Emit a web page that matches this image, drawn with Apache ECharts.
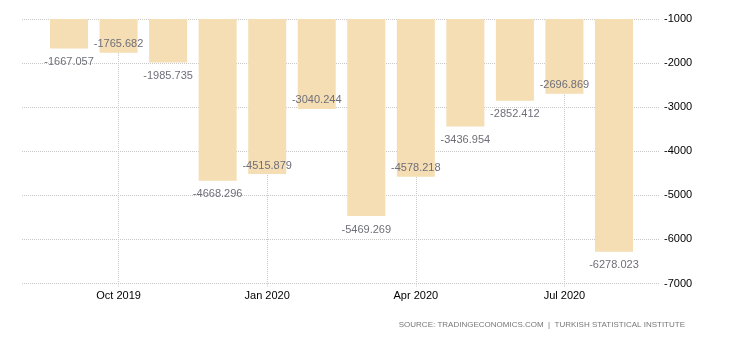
<!DOCTYPE html>
<html>
<head>
<meta charset="utf-8">
<script src="https://cdn.jsdelivr.net/npm/echarts@6/dist/echarts.min.js"></script>
<style>
html,body{margin:0;padding:0;background:#fff;}
#chart{width:730px;height:340px;}
</style>
</head>
<body>
<div id="chart"></div>
<script>
// ---- data ----
const months = ['Sep 2019','Oct 2019','Nov 2019','Dec 2019','Jan 2020','Feb 2020','Mar 2020','Apr 2020','May 2020','Jun 2020','Jul 2020','Aug 2020'];
const balance = [-1667.057,-1765.682,-1985.735,-4668.296,-4515.879,-3040.244,-5469.269,-4578.218,-3436.954,-2852.412,-2696.869,-6278.023];
const yTicks = [-7000,-6000,-5000,-4000,-3000,-2000,-1000];
const sourceText = 'SOURCE: TRADINGECONOMICS.COM  |  TURKISH STATISTICAL INSTITUTE';

// label placement (style): true = below bar end, false = inside bar end
const labelBelow = [true,false,true,true,false,false,true,false,true,true,false,true];

const FONT = 'Liberation Sans, Arial, sans-serif';
const yMin = yTicks[0], yMax = yTicks[yTicks.length-1];
const showIdx = (i) => i % 3 === 1;

const chart = echarts.init(document.getElementById('chart'), null, {renderer:'canvas'});
const option = {
  animation:false,
  backgroundColor:'#fff',
  grid:[
    {left:22, right:70, top:19, bottom:56.5},
    {left:44.25, right:91.25, top:19, bottom:56.5}
  ],
  xAxis:[
    {type:'value', gridIndex:0, show:false},
    {type:'category', gridIndex:1, data:months,
      axisLine:{show:false},
      axisTick:{show:true, alignWithLabel:true, interval:showIdx, length:3, lineStyle:{color:'#ccc', type:'dotted'}},
      axisLabel:{interval:showIdx, margin:7, color:'#000', fontSize:11, fontFamily:FONT},
      splitLine:{show:true, alignWithLabel:true, interval:showIdx, lineStyle:{color:'#c8c8c8', type:'dotted', width:1}}
    }
  ],
  yAxis:[
    {type:'value', gridIndex:0, position:'right', min:yMin, max:yMax, interval:1000,
      axisLine:{show:false}, axisTick:{show:false},
      axisLabel:{margin:4, color:'#000', fontSize:11, fontFamily:FONT, formatter:(v)=>String(v)},
      splitLine:{show:true, lineStyle:{color:'#c8c8c8', type:'dotted', width:1}}
    },
    {type:'value', gridIndex:1, min:yMin, max:yMax, show:false, splitLine:{show:false}}
  ],
  series:[{
    type:'bar', xAxisIndex:1, yAxisIndex:1, barWidth:38, clip:true,
    itemStyle:{color:'#f5deb3'},
    data: balance.map((v,i)=>({
      value:v,
      label:{show:true, position: labelBelow[i] ? 'bottom' : 'insideBottom', distance: labelBelow[i] ? 8 : 3,
        color:'#6e6e7a', fontSize:11, fontFamily:FONT,
        formatter:(p)=>p.value.toFixed(3)}
    }))
  }],
  graphic:[{
    type:'text', right:45, top:321,
    style:{text:sourceText, fill:'#777', fontSize:8, fontFamily:FONT}
  }]
};
chart.setOption(option);
</script>
</body>
</html>
